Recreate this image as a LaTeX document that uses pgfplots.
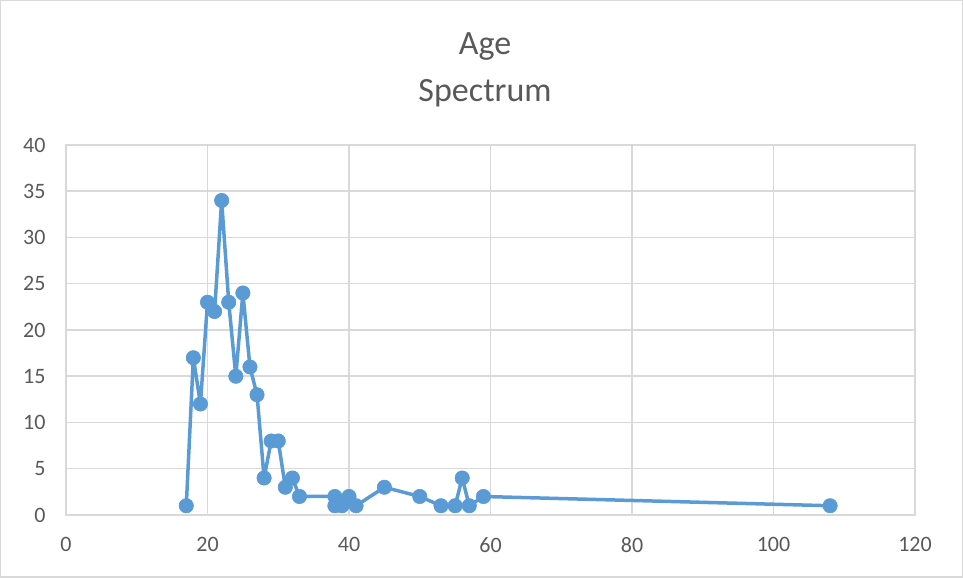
\documentclass[border=0pt]{standalone}
\usepackage{pgfplots}
\pgfplotsset{compat=1.18}
\usepackage{fontspec}
\setmainfont{Carlito}
\definecolor{serblue}{HTML}{5B9BD5}
\definecolor{gridgray}{HTML}{D9D9D9}
\definecolor{txtgray}{HTML}{595959}
\begin{document}
\begin{tikzpicture}[x=1bp,y=1bp]
\draw[gridgray, line width=1.5bp] (0.75,0.75) rectangle (962.25,577.25);
\node[txtgray, font=\fontsize{34bp}{40bp}\selectfont] at (485,531) {Age};
\node[txtgray, font=\fontsize{34bp}{40bp}\selectfont] at (485,485) {Spectrum};
\begin{axis}[
  at={(66bp,63bp)}, anchor=south west,
  scale only axis, width=849bp, height=370bp,
  xmin=0, xmax=120, ymin=0, ymax=40,
  xtick distance=20, ytick distance=5,
  grid=major,
  grid style={gridgray, line width=1.5bp},
  axis line style={gridgray, line width=1.5bp},
  tick style={draw=none},
  ticklabel style={txtgray, font=\fontsize{22bp}{26bp}\selectfont},
  /pgf/number format/assume math mode=true,
  xticklabel style={yshift=-19bp},
  yticklabel style={xshift=-17bp},
  clip=false,
]
\addplot[serblue, line width=3.5bp, line join=round, line cap=round, mark=*, mark size=7.2bp, mark options={fill=serblue, draw=serblue, line width=0.6bp, solid}]
coordinates {
(17,1) (18,17) (19,12) (20,23) (21,22) (22,34) (23,23) (24,15) (25,24)
(26,16) (27,13) (28,4) (29,8) (30,8) (31,3) (32,4) (33,2) (38,2) (38,1)
(39,1) (40,2) (41,1) (45,3) (50,2) (53,1) (55,1) (56,4) (57,1) (59,2) (108,1)
};
\end{axis}
\end{tikzpicture}
\end{document}
